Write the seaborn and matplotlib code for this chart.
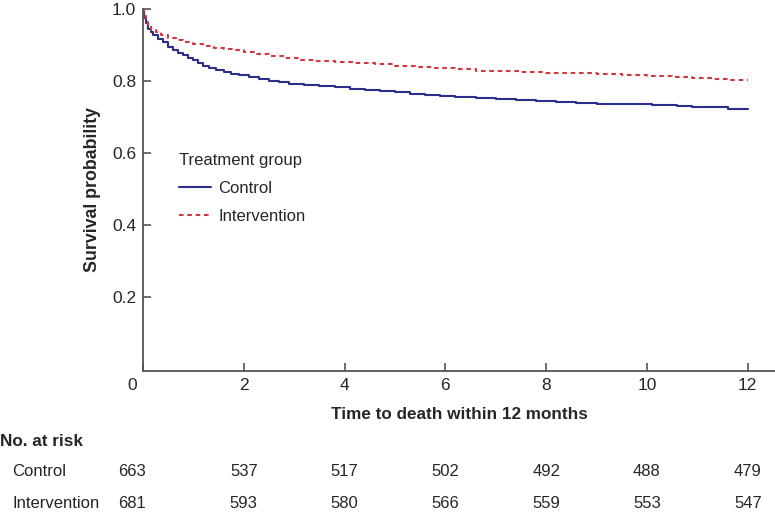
import seaborn as sns
import numpy as np
import pandas as pd
import matplotlib.pyplot as plt
from matplotlib.transforms import ScaledTranslation, blended_transform_factory

# Kaplan-Meier step knots (months, survival probability)
control_time = [0, 0.02, 0.05, 0.1, 0.15, 0.2, 0.3, 0.4, 0.5, 0.6, 0.7, 0.8, 0.9,
                1.0, 1.1, 1.2, 1.3, 1.45, 1.6, 1.75, 1.9, 2.1, 2.3, 2.5, 2.7, 2.9,
                3.2, 3.5, 3.8, 4.1, 4.4, 4.7, 5.0, 5.3, 5.6, 5.9, 6.2, 6.6, 7.0,
                7.4, 7.8, 8.2, 8.6, 9.0, 9.6, 10.1, 10.6, 10.9, 11.2, 11.6, 12.0]
control_surv = [1.0, 0.975, 0.96, 0.945, 0.935, 0.928, 0.917, 0.907, 0.895, 0.887,
                0.879, 0.871, 0.865, 0.858, 0.85, 0.842, 0.835, 0.83, 0.825, 0.82,
                0.816, 0.811, 0.806, 0.80, 0.796, 0.792, 0.789, 0.786, 0.782, 0.779,
                0.776, 0.773, 0.769, 0.765, 0.761, 0.758, 0.755, 0.752, 0.749, 0.746,
                0.744, 0.741, 0.739, 0.737, 0.735, 0.733, 0.731, 0.728, 0.727, 0.722,
                0.722]

interv_time = [0, 0.02, 0.05, 0.1, 0.15, 0.25, 0.35, 0.5, 0.65, 0.8, 1.0, 1.2, 1.4,
               1.6, 1.8, 2.0, 2.2, 2.5, 2.8, 3.1, 3.4, 3.8, 4.2, 4.6, 5.0, 5.4, 5.8,
               6.2, 6.6, 7.0, 7.5, 8.0, 8.5, 9.0, 9.5, 10.0, 10.5, 10.9, 11.3, 11.6,
               12.0]
interv_surv = [1.0, 0.98, 0.965, 0.952, 0.943, 0.935, 0.928, 0.92, 0.913, 0.908,
               0.903, 0.897, 0.892, 0.888, 0.885, 0.88, 0.874, 0.868, 0.863, 0.858,
               0.855, 0.853, 0.851, 0.847, 0.842, 0.838, 0.836, 0.832, 0.829, 0.827,
               0.825, 0.823, 0.821, 0.819, 0.816, 0.813, 0.812, 0.808, 0.806, 0.804,
               0.803]

risk_times = [0, 2, 4, 6, 8, 10, 12]
risk_control = [663, 537, 517, 502, 492, 488, 479]
risk_interv = [681, 593, 580, 566, 559, 553, 547]

groups = ['Control', 'Intervention']

df = pd.concat([
    pd.DataFrame({'time': control_time, 'surv': control_surv, 'group': 'Control'}),
    pd.DataFrame({'time': interv_time, 'surv': interv_surv, 'group': 'Intervention'}),
])

sns.set_style('ticks')
plt.rcParams['font.family'] = ['Liberation Sans', 'DejaVu Sans']

fig = plt.figure(figsize=(7.75, 5.12), dpi=100)
ax = fig.add_axes([143 / 775, 1 - 371 / 512, 632 / 775, 362 / 512])

palette = {'Control': '#2b2f8c', 'Intervention': '#d0393f'}
dashes = {'Control': '', 'Intervention': (2.2, 1.8)}
sns.lineplot(data=df, x='time', y='surv', hue='group', style='group',
             palette=palette, dashes=dashes, drawstyle='steps-post',
             linewidth=1.5, legend=False, ax=ax, sort=True)

ax.set_xlim(0, 12.54)
ax.set_ylim(-0.006, 1.0)
ax.set_xticks(risk_times)
ax.set_yticks([0.2, 0.4, 0.6, 0.8, 1.0])
ax.set_yticklabels(['0.2', '0.4', '0.6', '0.8', '1.0'])
ax.tick_params(direction='in', length=6, width=1.2, color='#555555',
               labelsize=12.5, pad=5)
for side in ['top', 'right']:
    ax.spines[side].set_visible(False)
for side in ['left', 'bottom']:
    ax.spines[side].set_color('#555555')
    ax.spines[side].set_linewidth(1.3)

shift = ScaledTranslation(-11 / 100, 0, fig.dpi_scale_trans)
first = ax.get_xticklabels()[0]
first.set_transform(first.get_transform() + shift)

ax.set_xlabel('Time to death within 12 months', fontsize=12.3,
              fontweight='bold', labelpad=10)
ax.set_ylabel('Survival probability', fontsize=12.8, fontweight='bold',
              labelpad=8)

lines = ax.get_lines()
leg = ax.legend(lines[:2], groups, title='Treatment group', loc='upper left',
                bbox_to_anchor=(0.057, 0.601), frameon=False, fontsize=12,
                title_fontsize=12, alignment='left', handlelength=1.9,
                handletextpad=0.45, labelspacing=0.76, borderpad=0,
                borderaxespad=0)

# number at risk table
fig.text(0, 1 - 441 / 512, 'No. at risk', fontsize=12.3, fontweight='bold',
         va='center', ha='left')
trans = blended_transform_factory(ax.transData, fig.transFigure)
for label, counts, yp in [('Control', risk_control, 472),
                          ('Intervention', risk_interv, 503)]:
    fig.text(12 / 775, 1 - yp / 512, label, fontsize=12, va='center', ha='left')
    for i, (t, n) in enumerate(zip(risk_times, counts)):
        tr = trans + shift if i == 0 else trans
        ax.text(t, 1 - yp / 512, str(n), fontsize=12, va='center',
                ha='center', transform=tr, clip_on=False)

fig.savefig('out.png', dpi=100)
